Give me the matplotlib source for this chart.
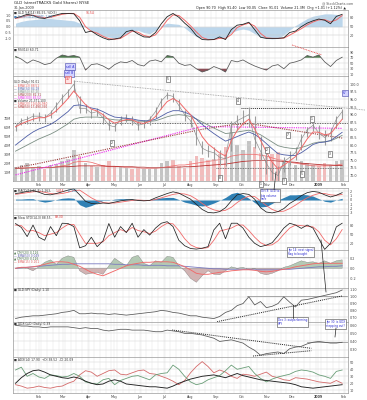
import numpy as np
import pandas as pd
import matplotlib
matplotlib.use('Agg')
import matplotlib.pyplot as plt
import matplotlib.dates as mdates
from matplotlib.lines import Line2D

# weekly samples (Fridays, Jan 4 2008 .. Jan 30 2009)
weeks = pd.date_range('2008-01-04', periods=57, freq='W-FRI')

# top panel: oscillator (0-100, right) + blue area (left, -1..1)
osc_k = [80, 85, 92, 88, 80, 78, 85, 90, 95, 95,
         94, 70, 30, 35, 22, 12, 5, 8, 12, 33,
         38, 25, 15, 14, 30, 60, 84, 95, 82, 62,
         45, 20, 6, 5, 6, 15, 6, 40, 55, 58,
         65, 40, 14, 10, 10, 10, 12, 30, 35, 50,
         62, 70, 76, 72, 60, 85, 92]
osc_d = [78, 82, 88, 89, 84, 80, 82, 87, 92, 95,
         95, 82, 50, 34, 28, 17, 9, 7, 10, 22,
         35, 31, 20, 15, 22, 45, 72, 90, 88, 72,
         53, 32, 13, 6, 6, 10, 10, 23, 47, 56,
         62, 52, 27, 12, 10, 10, 11, 21, 32, 43,
         56, 66, 73, 74, 66, 73, 88]
corr = [0.3, 0.45, 0.55, 0.6, 0.65, 0.7, 0.7, 0.65, 0.6, 0.55,
        0.5, 0.3, 0.0, -0.3, -0.6, -0.8, -0.9, -0.95, -0.85, -0.6,
        -0.4, -0.3, -0.5, -0.6, -0.3, 0.1, 0.3, 0.25, 0.2, -0.1,
        -0.5, -0.85, -1.0, -1.05, -1.0, -0.95, -0.9, -0.5, -0.3, -0.2,
        -0.3, -0.6, -0.9, -1.0, -1.05, -1.0, -0.7, -0.3, 0.1, 0.4,
        0.7, 0.9, 1.0, 1.1, 1.1, 1.05, 1.0]

rsi = [75, 65, 50, 62, 55, 45, 50, 68, 80, 75,
       78, 72, 25, 45, 48, 40, 28, 45, 55, 52,
       60, 45, 40, 58, 62, 55, 78, 74, 50, 42,
       45, 30, 18, 25, 38, 30, 18, 60, 55, 62,
       50, 40, 32, 25, 40, 45, 30, 50, 55, 62,
       78, 72, 80, 55, 38, 60, 72]

# price panel
price_close = [86.0, 88.0, 88.5, 89.5, 89.5, 89.0, 90.5, 93.0, 95.5, 97.5,
               100.0, 92.0, 92.0, 90.5, 91.0, 89.0, 86.5, 86.0, 88.5, 89.0,
               88.0, 86.5, 87.0, 88.5, 91.0, 94.5, 96.5, 96.0, 93.0, 90.0,
               88.0, 83.0, 79.0, 78.0, 77.5, 76.0, 75.5, 86.5, 88.0, 89.0,
               90.0, 82.0, 78.0, 74.0, 71.0, 70.0, 74.5, 76.0, 77.5, 82.0,
               85.0, 86.5, 84.0, 82.5, 84.0, 88.5, 91.0]
price_hi = [87.0, 88.8, 89.5, 90.5, 91.0, 90.3, 91.5, 94.0, 96.8, 98.5,
            101.5, 96.0, 93.5, 92.0, 92.3, 90.5, 88.5, 87.5, 89.5, 90.3,
            89.5, 88.0, 88.3, 89.5, 92.5, 95.5, 97.3, 97.0, 95.0, 91.5,
            89.5, 86.0, 81.5, 80.0, 79.5, 78.5, 78.0, 88.0, 90.0, 91.5,
            92.5, 89.5, 83.0, 78.0, 74.5, 73.0, 76.0, 78.0, 79.5, 83.5,
            86.0, 87.5, 86.5, 85.0, 85.5, 89.5, 92.0]
price_lo = [84.5, 86.5, 87.0, 88.0, 88.0, 87.5, 89.0, 91.0, 93.5, 95.5,
            97.5, 90.5, 90.5, 89.0, 89.5, 87.0, 85.0, 84.5, 86.5, 87.5,
            86.5, 85.0, 85.5, 86.5, 89.0, 92.0, 95.0, 94.0, 91.5, 88.0,
            86.0, 80.0, 77.0, 76.0, 75.0, 73.5, 73.0, 78.0, 85.0, 86.5,
            86.0, 79.0, 75.0, 70.5, 68.5, 67.5, 71.0, 73.5, 75.0, 78.5,
            82.5, 84.5, 82.0, 80.0, 81.5, 85.5, 88.5]
ema_fast = [86.0, 87.0, 87.8, 88.5, 89.0, 89.0, 89.8, 91.3, 93.2, 95.3,
            97.8, 95.5, 93.3, 91.8, 91.2, 90.0, 88.3, 87.2, 87.8, 88.4,
            88.3, 87.4, 87.1, 87.8, 89.4, 92.0, 94.3, 95.3, 94.2, 92.0,
            90.0, 86.5, 82.8, 80.4, 78.9, 77.4, 76.4, 81.5, 84.8, 87.0,
            88.5, 85.3, 81.6, 77.8, 74.4, 72.2, 73.4, 74.8, 76.2, 79.1,
            82.0, 84.3, 84.2, 83.4, 83.7, 86.1, 88.5]
ema_mid = [80.0, 81.5, 83.0, 84.3, 85.3, 86.0, 86.8, 88.0, 89.5, 91.0,
           93.0, 93.2, 92.8, 92.2, 91.8, 91.0, 90.0, 89.2, 89.0, 88.8,
           88.6, 88.2, 88.0, 88.0, 88.5, 89.5, 90.6, 91.3, 91.3, 90.8,
           90.0, 88.5, 86.8, 85.2, 83.8, 82.5, 81.3, 82.0, 82.8, 83.6,
           84.3, 83.5, 82.2, 80.5, 78.8, 77.2, 76.8, 76.6, 76.6, 77.5,
           78.8, 80.2, 80.8, 81.0, 81.5, 82.8, 84.2]
ema_slow = [78.0, 79.0, 80.0, 81.0, 82.0, 82.8, 83.6, 84.6, 85.8, 87.0,
            88.5, 89.0, 89.2, 89.2, 89.2, 89.0, 88.6, 88.3, 88.2, 88.1,
            88.0, 87.9, 87.8, 87.8, 88.0, 88.6, 89.3, 89.8, 90.0, 89.8,
            89.4, 88.6, 87.6, 86.6, 85.6, 84.7, 83.8, 84.0, 84.3, 84.6,
            84.9, 84.3, 83.4, 82.2, 81.0, 79.8, 79.3, 79.0, 78.8, 79.2,
            79.8, 80.6, 81.0, 81.1, 81.4, 82.2, 83.2]
sma200 = [72.5, 72.9, 73.3, 73.6, 74.0, 74.4, 74.8, 75.2, 75.6, 76.0,
          76.4, 76.8, 77.2, 77.6, 78.0, 78.4, 78.8, 79.2, 79.6, 80.0,
          80.4, 80.8, 81.2, 81.6, 82.0, 82.4, 82.8, 83.2, 83.6, 84.0,
          84.4, 84.8, 85.2, 85.5, 85.8, 86.1, 86.4, 86.6, 86.8, 87.0,
          87.0, 86.8, 86.5, 86.2, 85.9, 85.6, 85.3, 85.0, 84.7, 84.4,
          84.1, 83.8, 83.5, 83.2, 82.9, 82.6, 82.3]
volume = [16, 18, 20, 15, 17, 14, 18, 19, 22, 25,
          35, 28, 20, 17, 16, 18, 22, 17, 16, 15,
          14, 16, 14, 13, 15, 20, 22, 24, 17, 15,
          22, 28, 26, 24, 25, 30, 38, 55, 40, 35,
          45, 38, 32, 28, 30, 33, 22, 20, 18, 22,
          20, 18, 17, 20, 18, 22, 24]
vol_sma20 = [14, 15, 15, 15, 15, 15, 15, 16, 17, 18,
             21, 22, 22, 21, 19, 17, 16, 16, 16, 15,
             15, 15, 14, 14, 14, 15, 16, 17, 18, 18,
             19, 20, 21, 22, 23, 24, 25, 28, 29, 30,
             30, 30, 29, 28, 26, 24, 23, 21, 20, 19,
             18, 17, 17, 17, 17, 18, 19]
vol_sma50 = [14, 14, 14.5, 15, 15, 15, 15, 15.5, 16, 16,
             16.5, 17, 17, 17, 17, 17, 16.5, 16.5, 16, 16,
             16, 15.5, 15.5, 15, 15, 15, 15, 15.5, 15.5, 16,
             16, 16.5, 17, 17.5, 18, 18.5, 19, 20, 21, 22,
             22.5, 23, 23, 23, 23, 22.5, 22, 21.5, 21, 20,
             19.5, 19, 18.5, 18, 18, 17.5, 17.5]

# drawn trendlines on the price panel
tl_peak_dates = ['2008-03-14', '2009-02-27']
tl_peak_vals = [101.0, 91.5]
tl_pink_dates = ['2008-01-04', '2008-08-14', '2009-01-30']
tl_pink_vals = [70.2, 86.1, 85.5]
support_level = 87.2
resist_level = 92.3
resist_start = '2008-10-01'

macd = [1.5, 1.7, 2.0, 2.2, 1.8, 1.3, 1.2, 1.5, 1.9, 2.3,
        2.6, 1.2, -0.3, -0.8, -0.9, -0.7, -0.8, -0.5, -0.2, 0.0,
        0.1, -0.1, -0.2, -0.1, 0.5, 1.0, 1.5, 1.9, 1.6, 0.9,
        0.2, -1.0, -2.2, -2.9, -3.0, -2.7, -1.8, -0.2, 1.2, 1.5,
        1.3, 0.2, -1.8, -2.8, -3.0, -2.7, -2.0, -0.8, 0.0, 1.0,
        1.7, 2.0, 1.8, 1.2, 0.7, 1.1, 1.7]
macd_signal = [1.3, 1.5, 1.7, 1.9, 2.0, 1.8, 1.5, 1.4, 1.5, 1.8,
               2.2, 2.3, 1.4, 0.5, -0.2, -0.6, -0.7, -0.7, -0.5, -0.3,
               -0.1, 0.0, -0.1, -0.1, 0.1, 0.5, 0.9, 1.3, 1.5, 1.4,
               1.0, 0.2, -0.8, -1.7, -2.3, -2.6, -2.4, -1.7, -0.6, 0.3,
               0.9, 0.8, -0.2, -1.3, -2.2, -2.7, -2.6, -2.0, -1.2, -0.3,
               0.5, 1.1, 1.5, 1.5, 1.2, 1.1, 1.3]

stoch_k = [85, 72, 42, 80, 40, 30, 75, 45, 86, 85,
           75, 5, 12, 40, 9, 28, 85, 40, 75, 55,
           86, 40, 65, 47, 70, 86, 91, 75, 30, 12,
           3, 1, 4, 9, 64, 86, 35, 86, 86, 70,
           40, 20, 9, 14, 22, 45, 70, 86, 80, 69,
           80, 70, 35, 0, 20, 74, 86]
stoch_d = [80, 78, 60, 62, 55, 45, 50, 55, 70, 82,
           82, 50, 20, 20, 20, 25, 45, 55, 65, 58,
           72, 62, 58, 52, 60, 75, 86, 84, 62, 35,
           15, 6, 3, 6, 30, 60, 65, 70, 80, 80,
           62, 40, 22, 13, 15, 28, 50, 70, 80, 78,
           76, 74, 58, 30, 15, 35, 65]

cmf = [0.0, 0.02, 0.0, -0.05, 0.03, 0.12, 0.17, 0.08, 0.2, 0.25,
       0.22, -0.05, -0.12, -0.1, -0.08, -0.12, 0.05, 0.2, 0.12, 0.05,
       0.22, 0.26, 0.1, 0.05, 0.15, 0.12, 0.24, 0.22, 0.05, -0.05,
       -0.2, -0.28, -0.15, -0.05, -0.12, -0.13, -0.05, 0.03, 0.0, 0.02,
       -0.03, 0.0, -0.1, -0.13, -0.1, -0.05, 0.02, 0.05, 0.1, 0.15,
       0.12, 0.13, 0.1, 0.15, 0.1, 0.15, 0.17]
cmf_ema = [0.0, 0.02, 0.02, 0.03, 0.05, 0.08, 0.11, 0.13, 0.13, 0.12,
           0.08, 0.04, -0.02, -0.08, -0.12, -0.15, -0.1, -0.05, 0.0, 0.05,
           0.08, 0.1, 0.12, 0.12, 0.13, 0.13, 0.13, 0.12, 0.08, 0.03,
           -0.03, -0.1, -0.12, -0.12, -0.1, -0.08, -0.07, -0.05, -0.04, -0.03,
           -0.03, -0.04, -0.06, -0.07, -0.06, -0.04, -0.02, 0.0, 0.03, 0.05,
           0.07, 0.09, 0.1, 0.1, 0.1, 0.1, 0.1]
cmf_slow = [0.0, 0.01, 0.02, 0.03, 0.04, 0.05, 0.06, 0.07, 0.08, 0.08,
            0.09, 0.09, 0.09, 0.09, 0.09, 0.09, 0.09, 0.08, 0.08, 0.07,
            0.07, 0.07, 0.06, 0.06, 0.06, 0.06, 0.05, 0.05, 0.05, 0.04,
            0.03, 0.02, 0.01, 0.0, -0.01, -0.01, -0.02, -0.02, -0.02, -0.02,
            -0.02, -0.03, -0.03, -0.03, -0.03, -0.03, -0.02, -0.02, -0.01, 0.0,
            0.01, 0.02, 0.03, 0.03, 0.04, 0.04, 0.05]

gld_spy = [0.68, 0.70, 0.71, 0.72, 0.72, 0.73, 0.74, 0.75, 0.77, 0.78,
           0.80, 0.75, 0.75, 0.76, 0.75, 0.75, 0.74, 0.75, 0.74, 0.73,
           0.74, 0.75, 0.76, 0.77, 0.78, 0.80, 0.79, 0.77, 0.76, 0.74,
           0.72, 0.72, 0.70, 0.69, 0.68, 0.71, 0.77, 0.80, 0.87, 0.90,
           1.00, 0.88, 0.93, 0.84, 0.86, 0.90, 1.00, 0.92, 0.85, 0.95,
           0.96, 0.98, 1.00, 1.02, 1.04, 1.06, 1.10]
spy_tl_dates = ['2008-09-02', '2009-01-30']
spy_tl_vals = [0.634, 1.012]
spy_flat_dates = ['2008-10-08', '2009-02-05']
spy_flat_val = 1.012

gdx_gld = [0.60, 0.59, 0.59, 0.58, 0.58, 0.57, 0.58, 0.58, 0.58, 0.58,
           0.57, 0.56, 0.57, 0.56, 0.56, 0.54, 0.53, 0.54, 0.55, 0.55,
           0.54, 0.54, 0.54, 0.53, 0.52, 0.52, 0.54, 0.53, 0.52, 0.50,
           0.50, 0.49, 0.48, 0.46, 0.44, 0.40, 0.41, 0.42, 0.40, 0.38,
           0.33, 0.29, 0.23, 0.25, 0.26, 0.27, 0.25, 0.31, 0.33, 0.34,
           0.37, 0.39, 0.40, 0.39, 0.38, 0.38, 0.39]
gdx_tl1_dates = ['2008-07-10', '2008-12-24']
gdx_tl1_vals = [0.541, 0.315]
gdx_tl2_dates = ['2008-10-15', '2008-12-24']
gdx_tl2_vals = [0.22, 0.286]
gdx_flat_dates = ['2008-12-19', '2009-02-06']
gdx_flat_val = 0.397

adx = [20, 28, 34, 38, 39, 36, 32, 30, 28, 27,
       29, 27, 23, 20, 18, 19, 23, 25, 23, 19,
       18, 17, 16, 15, 15, 14, 13, 16, 20, 23,
       26, 28, 30, 31, 32, 30, 28, 31, 34, 31,
       29, 27, 25, 24, 23, 22, 21, 20, 18, 15,
       14, 13, 14, 15, 16, 17, 18]
plus_di = [39, 43, 30, 34, 29, 27, 32, 31, 29, 30,
           34, 30, 22, 20, 19, 25, 27, 18, 24, 27,
           30, 31, 28, 25, 32, 34, 35, 46, 40, 30,
           22, 18, 20, 25, 28, 31, 38, 46, 40, 42,
           44, 34, 27, 22, 26, 29, 31, 33, 37, 39,
           38, 36, 32, 30, 27, 37, 39]
minus_di = [18, 16, 13, 14, 16, 14, 13, 15, 16, 20,
            23, 32, 38, 36, 30, 34, 38, 39, 33, 32,
            35, 38, 39, 34, 33, 30, 27, 23, 18, 24,
            35, 44, 51, 44, 35, 39, 36, 30, 27, 33,
            32, 30, 33, 36, 30, 28, 25, 24, 28, 27,
            26, 24, 22, 21, 20, 24, 20]

month_ticks = pd.date_range('2008-02-01', '2009-02-01', freq='MS')
month_labels = ['Feb', 'Mar', 'Apr', 'May', 'Jun', 'Jul', 'Aug', 'Sep',
                'Oct', 'Nov', 'Dec', '2009', 'Feb']

for name, s in [('osc_k', osc_k), ('osc_d', osc_d), ('corr', corr), ('rsi', rsi),
                ('close', price_close), ('hi', price_hi), ('lo', price_lo),
                ('ema_fast', ema_fast), ('ema_mid', ema_mid), ('ema_slow', ema_slow),
                ('sma200', sma200), ('volume', volume), ('vs20', vol_sma20),
                ('vs50', vol_sma50), ('macd', macd), ('sig', macd_signal),
                ('sk', stoch_k), ('sd', stoch_d), ('cmf', cmf), ('cmf_ema', cmf_ema),
                ('cmf_slow', cmf_slow), ('gld_spy', gld_spy), ('gdx_gld', gdx_gld),
                ('adx', adx), ('pdi', plus_di), ('mdi', minus_di)]:
    assert len(s) == 57, (name, len(s))

# ---------------------------------------------------------------- layout
W, H = 367, 400
X0, X1 = 13, 348
FS = 2.4
fig = plt.figure(figsize=(W / 100, H / 100), dpi=100)
fig.patch.set_facecolor('white')
xlim = (pd.Timestamp('2008-01-01'), pd.Timestamp('2009-02-06'))


def panel(top, bot, ylim, yticks, ylabels, month_text=False):
    ax = fig.add_axes([X0 / W, 1 - bot / H, (X1 - X0) / W, (bot - top) / H])
    ax.set_xlim(*xlim)
    ax.set_ylim(*ylim)
    ax.set_xticks(month_ticks)
    ax.xaxis.set_minor_locator(mdates.WeekdayLocator(byweekday=mdates.MO))
    ax.grid(which='both', axis='x', color='#e3e3e3', lw=0.35)
    ax.set_yticks(yticks)
    ax.set_yticklabels(ylabels)
    ax.grid(axis='y', color='#d4d4d4', lw=0.35)
    ax.yaxis.tick_right()
    ax.tick_params(which='both', length=0, labelsize=FS, pad=1.2, colors='#444')
    if month_text:
        ax.set_xticklabels(month_labels)
        for t in ax.get_xticklabels():
            if t.get_text() == '2009':
                t.set_fontweight('bold')
    else:
        ax.set_xticklabels([])
    for sp in ax.spines.values():
        sp.set_color('#9a9a9a')
        sp.set_linewidth(0.5)
    ax.set_axisbelow(True)
    return ax


def ftext(px, py, txt, color='#333', size=FS, **kw):
    fig.text(px / W, 1 - py / H, txt, fontsize=size, color=color, va='center', **kw)


def box(px, py, txt, color='#222', fc='white', ec='#444'):
    fig.text(px / W, 1 - py / H, txt, fontsize=2.2, color=color, ha='center', va='center',
             bbox=dict(boxstyle='square,pad=0.35', fc=fc, ec=ec, lw=0.4), zorder=10)


def link(a, b, color='#222', ls='-', lw=0.5):
    fig.add_artist(Line2D([a[0] / W, b[0] / W], [1 - a[1] / H, 1 - b[1] / H],
                          color=color, lw=lw, ls=ls, zorder=9))


# header
ftext(14, 3.5, 'GLD (streetTRACKS Gold Shares) NYSE', size=2.8, color='#222')
ftext(14, 8.5, '30-Jan-2009', size=2.4)
ftext(322, 3.5, '@ StockCharts.com', size=2.3, color='#555')
ftext(346, 8.5, 'Open 90.70  High 91.40  Low 90.05  Close 91.01  Volume 21.3M  Chg +1.01 (+1.12%) \u25b2',
      size=2.4, ha='right', color='#222')

# ---- panel 1: blue area + oscillator
ax1 = panel(10, 47, (-1.74, 1.43), [1.0, 0.5, 0.0, -0.5, -1.0],
            ['1.0', '0.5', '0.0', '-0.5', '-1.0'])
ax1.yaxis.tick_left()
ax1.grid(False, axis='y')
ax1.fill_between(weeks, 0, corr, color='#bcd6eb', lw=0)
ax1b = ax1.twinx()
ax1b.set_xlim(*xlim)
ax1b.set_ylim(-19.4, 106.8)
ax1b.set_yticks([80, 50, 20])
ax1b.grid(axis='y', color='#c8c8c8', lw=0.35)
ax1b.tick_params(length=0, labelsize=FS, pad=1.2, colors='#444')
for sp in ax1b.spines.values():
    sp.set_visible(False)
ax1b.plot(weeks, osc_d, color='#f06a6a', lw=0.7)
ax1b.plot(weeks, osc_k, color='#222', lw=0.6)
ftext(14, 13, '\u25a0 GLD %K(14) 86.55, %D(3)', size=2.2)
ftext(86, 13, '91.54', size=2.2, color='#e03030')
ftext(14, 16.5, '\u25a0 Correl(GLD,$USD) 1.00', size=2.2, color='#4d82b8')

# ---- panel 2: RSI
ax2 = panel(47, 76, (3.6, 109), [90, 70, 50, 30, 10], ['90', '70', '50', '30', '10'])
r = np.array(rsi, dtype=float)
ax2.fill_between(weeks, r, 70, where=r >= 70, interpolate=True, color='#4f7d50', lw=0)
ax2.fill_between(weeks, r, 30, where=r <= 30, interpolate=True, color='#8c4f58', lw=0)
ax2.plot(weeks, rsi, color='#555', lw=0.55)
ftext(14, 49.5, '\u25a0 RSI(14) 60.71', size=2.2)

# ---- panel 3: price + volume
axv = panel(76, 181, (0, 118), [10, 20, 30, 40, 50, 60, 70],
            ['10M', '20M', '30M', '40M', '50M', '60M', '70M'], month_text=True)
axv.yaxis.tick_left()
axv.grid(False, axis='y')
ups = np.diff(np.r_[price_close[0], price_close]) >= 0
vcol = ['#c4c4c4' if u else '#f2bcbc' for u in ups]
axv.bar(weeks, volume, width=4.2, color=vcol, lw=0)
axv.plot(weeks, vol_sma20, color='#f07070', lw=0.55)
axv.plot(weeks, vol_sma50, color='#b83030', lw=0.6)
axv.plot([pd.Timestamp('2008-09-01'), weeks[-1]], [14.3, 14.3], color='#333', lw=0.6, ls=(0, (1, 1)))

axp = axv.twinx()
axp.set_xlim(*xlim)
axp.set_ylim(68.2, 102.7)
pt = np.arange(70, 100.1, 2.5)
axp.set_yticks(pt)
axp.set_yticklabels(['%.1f' % v for v in pt])
axp.grid(axis='y', color='#d4d4d4', lw=0.35)
axp.tick_params(length=0, labelsize=FS, pad=1.2, colors='#444')
for sp in axp.spines.values():
    sp.set_visible(False)
axp.plot(pd.to_datetime(tl_peak_dates), tl_peak_vals, color='#9a9a9a', lw=0.6, ls=(0, (1, 1)), clip_on=False)
axp.plot(pd.to_datetime(tl_pink_dates), tl_pink_vals, color='#ee22ee', lw=0.8, ls=(0, (1, 1)))
axp.plot(weeks, sma200, color='#9a3b3b', lw=0.8, ls=(0, (1, 1)))
axp.plot(xlim, [support_level] * 2, color='#333', lw=0.6, ls=(0, (1, 1)))
axp.plot([pd.Timestamp(resist_start), weeks[-1]], [resist_level] * 2, color='#333', lw=0.7, ls=(0, (1, 1)))
axp.vlines(weeks, price_lo, price_hi, color='#9d9d9d', lw=0.8)
axp.plot(weeks, price_close, color='#8a8a8a', lw=0.45)
axp.plot(weeks, ema_slow, color='#7c8f84', lw=0.6)
axp.plot(weeks, ema_mid, color='#4e5ea6', lw=0.6)
axp.plot(weeks, ema_fast, color='#f06a6a', lw=0.7)

legend_rows = [('GLD (Daily) 91.01', '#333'),
               ('\u2014 EMA(13) 88.51', '#e05a5a'),
               ('\u2014 EMA(34) 84.18', '#4e5ea6'),
               ('\u2014 EMA(50) 83.20', '#7c8f84'),
               ('\u2014 SMA(200) 82.31', '#9a3b3b'),
               ('\u2014 SMA(300) 85.52', '#ee22ee'),
               ('\u25a0 Volume 21,371,100', '#333'),
               ('\u2014 SMA(20) 19,046,980', '#e05a5a'),
               ('\u2014 SMA(50) 17,490,350', '#b03030')]
for k, (txt, col) in enumerate(legend_rows):
    ftext(14, 82.5 + 3.1 * k, txt, color=col, size=2.1)

# ---- panel 4: MACD
ax4 = panel(188, 215, (-3.49, 2.79), [2, 1, 0, -1, -2, -3], ['2', '1', '0', '-1', '-2', '-3'])
hist = np.array(macd) - np.array(macd_signal)
ax4.fill_between(weeks, hist, 0, color='#2f80b4', lw=0)
ax4.plot(weeks, macd_signal, color='#f06a6a', lw=0.6)
ax4.plot(weeks, macd, color='#222', lw=0.55)
ftext(14, 190.5, '\u25a0 MACD(12,26,9) 1.263,', size=2.2)
ftext(56, 190.5, '1.414', size=2.2, color='#e03030')
ftext(68, 190.5, '-0.151', size=2.2, color='#2f80b4')

# ---- panel 5: slow stochastic
ax5 = panel(215, 250, (-2, 113), [80, 50, 20], ['80', '50', '20'])
ax5.plot(weeks, stoch_d, color='#f06a6a', lw=0.6)
ax5.plot(weeks, stoch_k, color='#222', lw=0.55)
ftext(14, 217.5, '\u25a0 Slow STO(14,3) 88.55,', size=2.2)
ftext(55, 217.5, '89.30', size=2.2, color='#e03030')

# ---- panel 6: CMF
ax6 = panel(250, 288, (-0.394, 0.366), [0.2, 0.0, -0.2], ['0.2', '0.0', '-0.2'])
c = np.array(cmf)
ax6.fill_between(weeks, c, 0, where=c >= 0, interpolate=True, color='#b4c9b4', ec='#777', lw=0.25)
ax6.fill_between(weeks, c, 0, where=c <= 0, interpolate=True, color='#d2b3b3', ec='#777', lw=0.25)
ax6.plot(weeks, cmf_slow, color='#7a7ac0', lw=0.6)
ax6.plot(weeks, cmf_ema, color='#f06a6a', lw=0.65)
ftext(14, 253, '\u25b2 CMF(20) 0.126', size=2.1, color='#3d6b3d')
ftext(14, 256, '\u2014 EMA(50) 0.049', size=2.1, color='#5a5aa8')
ftext(14, 259, '\u25b2 CMF(20) 0.126', size=2.1, color='#3d6b3d')
ftext(14, 262, '\u2014 EMA(15) 0.101', size=2.1, color='#e05a5a')

# ---- panel 7: GLD:SPY
ax7 = panel(288, 322, (0.629, 1.129), [1.1, 1.0, 0.9, 0.8, 0.7],
            ['1.10', '1.00', '0.90', '0.80', '0.70'])
ax7.plot(pd.to_datetime(spy_flat_dates), [spy_flat_val] * 2, color='#888', lw=0.5)
ax7.plot(pd.to_datetime(spy_tl_dates), spy_tl_vals, color='#222', lw=0.7, ls=(0, (1, 1)))
ax7.plot(weeks, gld_spy, color='#555', lw=0.55)
ftext(14, 290.5, '\u25a0 GLD:SPY (Daily) 1.10', size=2.2)

# ---- panel 8: GDX:GLD
ax8 = panel(322, 357, (0.208, 0.64), [0.6, 0.5, 0.4, 0.3], ['0.60', '0.50', '0.40', '0.30'])
ax8.plot(pd.to_datetime(gdx_flat_dates), [gdx_flat_val] * 2, color='#888', lw=0.5)
ax8.plot(pd.to_datetime(gdx_tl1_dates), gdx_tl1_vals, color='#222', lw=0.7, ls=(0, (1, 1)))
ax8.plot(pd.to_datetime(gdx_tl2_dates), gdx_tl2_vals, color='#222', lw=0.7, ls=(0, (1, 1)))
ax8.plot(weeks, gdx_gld, color='#555', lw=0.55)
ftext(14, 324.5, '\u25a0 GDX:GLD (Daily) 0.39', size=2.2)

# ---- panel 9: ADX
ax9 = panel(357, 393, (6.1, 57.6), [50, 40, 30, 20, 10], ['50', '40', '30', '20', '10'],
            month_text=True)
ax9.plot(weeks, minus_di, color='#d46a6a', lw=0.6)
ax9.plot(weeks, plus_di, color='#6a9e78', lw=0.6)
ax9.plot(weeks, adx, color='#222', lw=0.65)
ftext(14, 359.5, '\u25a0 ADX(14) 17.90  +DI 38.52  -DI 20.09', size=2.2)

# ---- hand-drawn annotations
box(70, 66.5, 'sell A', color='#2a2ad0', fc='#d4d4ff', ec='#4444aa')
box(69, 73.5, 'sell B', color='#2a2ad0', fc='#d4d4ff', ec='#4444aa')
box(68, 79.5, '1/7', color='#e02020', fc='#ffe4e4', ec='#d04040')
box(345, 93, '6?', color='#2a2ad0', fc='#d4d4ff', ec='#4444aa')
for (bx, by, bt) in [(168, 79, '5'), (238, 101, '4'), (312, 119, '1'), (288, 135, '7'),
                     (112, 143, '2'), (267, 150, '2'), (330, 154, '3'), (302, 174, '5'),
                     (220, 178, '8'), (261, 184, '1'), (284, 181, '3')]:
    box(bx, by, bt)
link((292, 45), (322, 55), color='#e03030', ls=(0, (1, 1)), lw=0.6)

link((276, 172), (274, 190))
ftext(261, 195.5, 'Oct 8: GLD to\nbig volume\nhere', size=2.0, color='#2a2ad0',
      bbox=dict(boxstyle='square,pad=0.3', fc='white', ec='#444', lw=0.4), linespacing=1.0)
link((321, 240), (326, 292))
ftext(288, 252, 'Jan 14: next signal\nflag to bought', size=2.0, color='#2a2ad0',
      bbox=dict(boxstyle='square,pad=0.3', fc='white', ec='#444', lw=0.4), linespacing=1.0)
link((293, 305), (293, 318))
ftext(278, 322, 'Dec 3: outperforming\nSPY', size=2.0, color='#2a2ad0',
      bbox=dict(boxstyle='square,pad=0.3', fc='white', ec='#444', lw=0.4), linespacing=1.0)
link((336, 328), (335, 337))
ftext(326, 324, 'Jan 30: is GDX\nstepping out?', size=2.0, color='#2a2ad0',
      bbox=dict(boxstyle='square,pad=0.3', fc='white', ec='#444', lw=0.4), linespacing=1.0)

fig.savefig('out.png', dpi=100, facecolor='white')
